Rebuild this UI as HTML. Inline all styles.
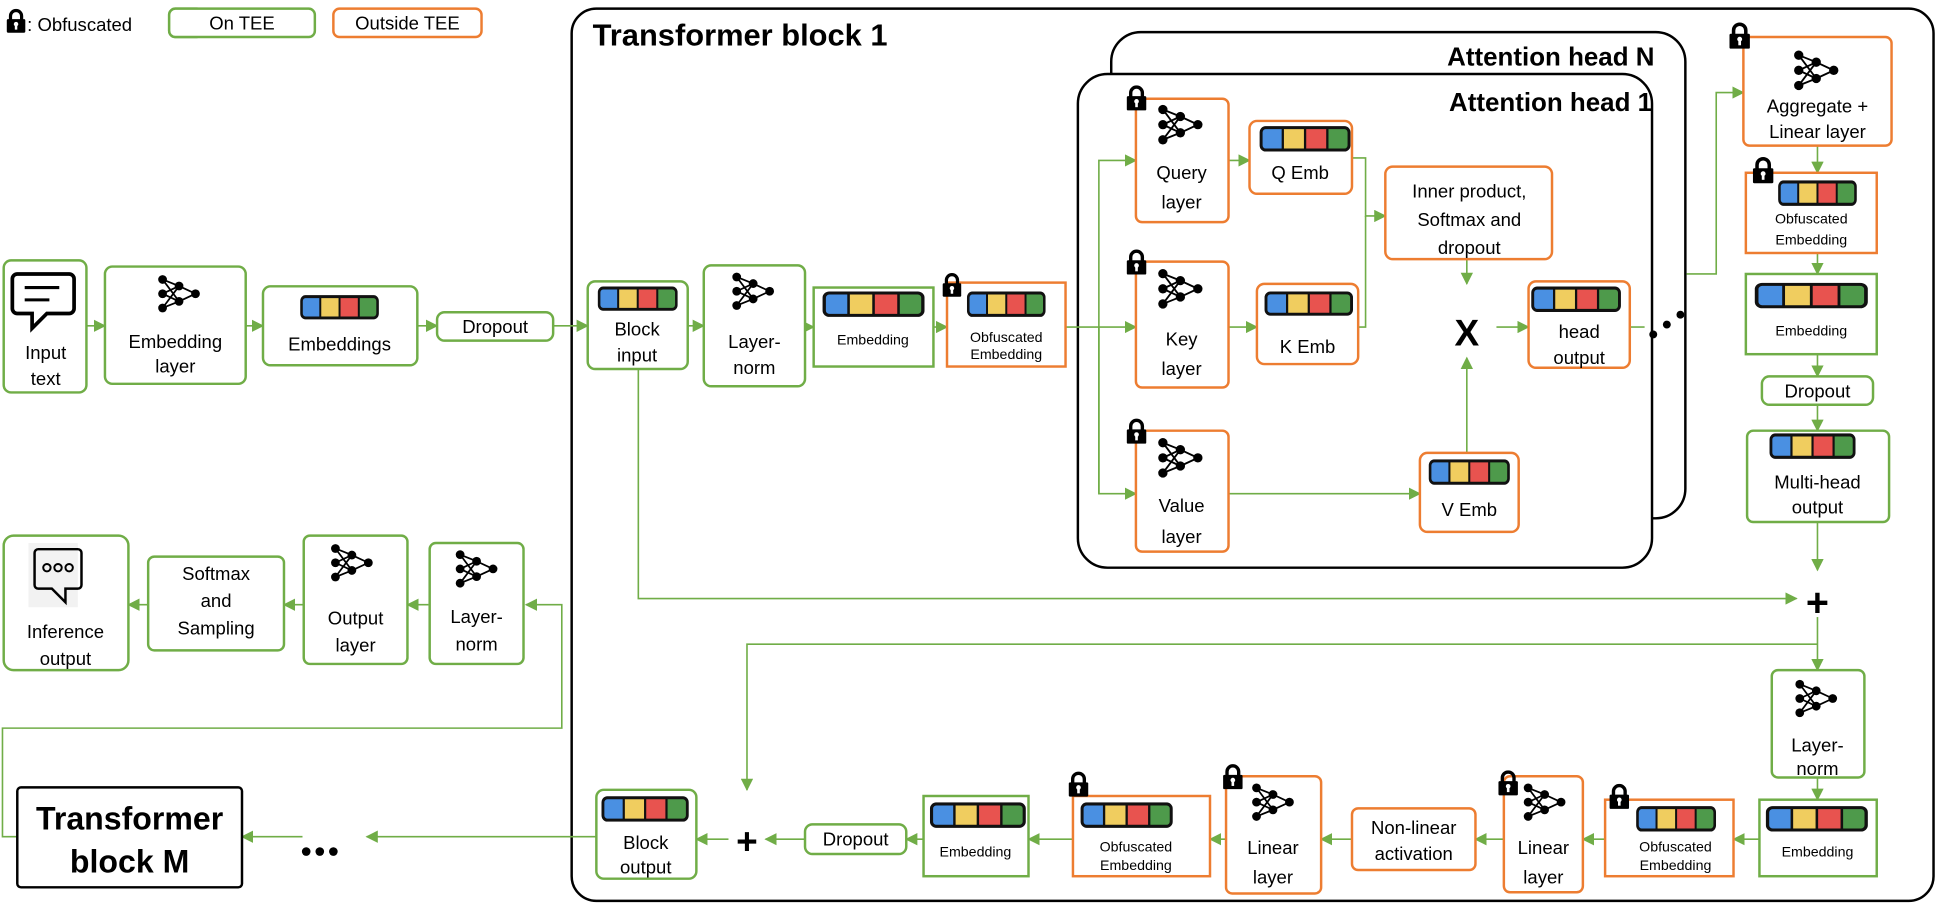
<!DOCTYPE html>
<html><head><meta charset="utf-8"><style>
html,body{margin:0;padding:0;background:#fff;}
svg{display:block;}
text{font-family:"Liberation Sans",sans-serif;fill:#000;}
.g{fill:#fff;stroke:#70ad47;stroke-width:2;}
.o{fill:#fff;stroke:#ed7d31;stroke-width:2;}
.c{fill:none;stroke:#70ad47;stroke-width:1.3;}
.t{font-size:15px;text-anchor:middle;}
.s{font-size:11.5px;text-anchor:middle;}
</style></head><body>
<svg width="1936" height="912" viewBox="0 0 1568 739" preserveAspectRatio="none" xmlns="http://www.w3.org/2000/svg">
<defs>
<marker id="a" markerWidth="10" markerHeight="10" refX="9" refY="5" orient="auto" markerUnits="userSpaceOnUse"><path d="M0,0 L10,5 L0,10 z" fill="#70ad47"/></marker>
<symbol id="nn" viewBox="0 0 40 36"><g stroke="#000" stroke-width="1.6"><path d="M5,5 L20,11 M5,5 L20,25 M5,18 L20,11 M5,18 L20,25 M5,31 L20,11 M5,31 L20,25 M20,11 L35,18 M20,25 L35,18"/></g><g fill="#000"><circle cx="5" cy="5" r="4"/><circle cx="5" cy="18" r="4"/><circle cx="5" cy="31" r="4"/><circle cx="20" cy="11" r="4"/><circle cx="20" cy="25" r="4"/><circle cx="35" cy="18" r="4"/></g></symbol>
<symbol id="emb" viewBox="0 0 80 22" preserveAspectRatio="none"><rect x="1.5" y="1.5" width="19" height="19" rx="3" fill="#4a90e2"/><rect x="20.5" y="1.5" width="19.5" height="19" fill="#f0cd5f"/><rect x="40" y="1.5" width="19.5" height="19" fill="#e8534f"/><rect x="59.5" y="1.5" width="19" height="19" rx="3" fill="#4e9a4b"/><g stroke="#111" stroke-width="2"><line x1="20.5" y1="1.5" x2="20.5" y2="20.5"/><line x1="40" y1="1.5" x2="40" y2="20.5"/><line x1="59.5" y1="1.5" x2="59.5" y2="20.5"/></g><rect x="1.5" y="1.5" width="77" height="19" rx="4" fill="none" stroke="#111" stroke-width="2.6"/></symbol>
<symbol id="lk" viewBox="0 0 16 20"><path d="M3.5,9 V6 A4.5,4.5 0 0 1 12.5,6 V9" fill="none" stroke="#000" stroke-width="2.6"/><rect x="0.5" y="8.5" width="15" height="11" rx="1" fill="#000"/><rect x="7" y="12" width="2" height="5" fill="#fff"/><circle cx="8" cy="12.5" r="1.8" fill="#fff"/></symbol>
</defs>

<!-- legend -->
<use href="#lk" x="5" y="7" width="16" height="20"/>
<text x="22" y="25" style="font-size:15px">: Obfuscated</text>
<rect class="g" x="168" y="8" width="150" height="29" rx="6"/>
<text class="t" x="243" y="29" style="font-size:16px">On TEE</text>
<rect class="o" x="334" y="8" width="150" height="29" rx="6" />
<g>
<rect class="g" x="137" y="7" width="118" height="23" rx="5"/>
<text class="t" x="196" y="24">On TEE</text>
<rect class="o" x="270" y="7" width="120" height="23" rx="5"/>
<text class="t" x="330" y="24">Outside TEE</text>
</g>
<rect x="160" y="5" width="330" height="35" fill="#fff"/>
<rect class="g" x="137" y="7" width="118" height="23" rx="5"/>
<text class="t" x="196" y="24">On TEE</text>
<rect class="o" x="270" y="7" width="120" height="23" rx="5"/>
<text class="t" x="330" y="24">Outside TEE</text>

<!-- big box -->
<rect x="463" y="7" width="1103" height="723" rx="20" fill="#fff" stroke="#000" stroke-width="2"/>
<text x="480" y="37" style="font-size:25px;font-weight:bold">Transformer block 1</text>
<rect x="900" y="26" width="465" height="394" rx="24" fill="#fff" stroke="#000" stroke-width="2"/>
<text x="1340" y="53" style="font-size:21px;font-weight:bold;text-anchor:end">Attention head N</text>
<rect x="873" y="60" width="465" height="400" rx="24" fill="#fff" stroke="#000" stroke-width="2"/>
<text x="1338" y="90" style="font-size:21px;font-weight:bold;text-anchor:end">Attention head 1</text>

<!-- connectors -->
<g class="c">
<line x1="70" y1="264" x2="85" y2="264" marker-end="url(#a)"/>
<line x1="199" y1="264" x2="213" y2="264" marker-end="url(#a)"/>
<line x1="338" y1="264" x2="354" y2="264" marker-end="url(#a)"/>
<line x1="448" y1="264" x2="476" y2="264" marker-end="url(#a)"/>
<line x1="557" y1="264" x2="570" y2="264" marker-end="url(#a)"/>
<line x1="652" y1="265" x2="659" y2="265" marker-end="url(#a)"/>
<line x1="756" y1="265" x2="767" y2="265" marker-end="url(#a)"/>
<path d="M863,265 H920" marker-end="url(#a)"/>
<path d="M890,400 V130 H920" marker-end="url(#a)"/>
<path d="M890,265 V400 H920" marker-end="url(#a)"/>
<line x1="995" y1="130" x2="1012" y2="130" marker-end="url(#a)"/>
<line x1="995" y1="265" x2="1018" y2="265" marker-end="url(#a)"/>
<path d="M1095,128 H1106 V175 H1122" marker-end="url(#a)"/>
<path d="M1100,265 H1106 V175"/>
<line x1="1188" y1="210" x2="1188" y2="230" marker-end="url(#a)"/>
<line x1="995" y1="400" x2="1150" y2="400" marker-end="url(#a)"/>
<line x1="1188" y1="367" x2="1188" y2="290" marker-end="url(#a)"/>
<line x1="1212" y1="265" x2="1238" y2="265" marker-end="url(#a)"/>
<line x1="1320" y1="265" x2="1332" y2="265"/>
<path d="M1366,222 H1390 V75 H1412" marker-end="url(#a)"/>
<line x1="1472" y1="118" x2="1472" y2="140" marker-end="url(#a)"/>
<line x1="1472" y1="205" x2="1472" y2="222" marker-end="url(#a)"/>
<line x1="1472" y1="287" x2="1472" y2="305" marker-end="url(#a)"/>
<line x1="1472" y1="328" x2="1472" y2="349" marker-end="url(#a)"/>
<line x1="1472" y1="423" x2="1472" y2="462" marker-end="url(#a)"/>
<path d="M517,299 V485 H1455" marker-end="url(#a)"/>
<line x1="1472" y1="500" x2="1472" y2="543" marker-end="url(#a)"/>
<path d="M1472,522 H605 V640" marker-end="url(#a)"/>
<line x1="1472" y1="630" x2="1472" y2="648" marker-end="url(#a)"/>
<line x1="1425" y1="680" x2="1404" y2="680" marker-end="url(#a)"/>
<line x1="1300" y1="680" x2="1282" y2="680" marker-end="url(#a)"/>
<line x1="1218" y1="680" x2="1195" y2="680" marker-end="url(#a)"/>
<line x1="1095" y1="680" x2="1070" y2="680" marker-end="url(#a)"/>
<line x1="993" y1="680" x2="980" y2="680" marker-end="url(#a)"/>
<line x1="869" y1="680" x2="833" y2="680" marker-end="url(#a)"/>
<line x1="748" y1="680" x2="734" y2="680" marker-end="url(#a)"/>
<line x1="652" y1="680" x2="620" y2="680" marker-end="url(#a)"/>
<line x1="590" y1="680" x2="564" y2="680" marker-end="url(#a)"/>
<line x1="483" y1="678" x2="297" y2="678" marker-end="url(#a)"/>
<line x1="245" y1="678" x2="196" y2="678" marker-end="url(#a)"/>
<path d="M14,678 H2 V590 H455 V490 H426" marker-end="url(#a)"/>
<line x1="347" y1="490" x2="330" y2="490" marker-end="url(#a)"/>
<line x1="246" y1="490" x2="230" y2="490" marker-end="url(#a)"/>
<line x1="120" y1="490" x2="104" y2="490" marker-end="url(#a)"/>
</g>
<g fill="#000"><circle cx="1339" cy="271" r="3.2"/><circle cx="1350" cy="263" r="3.2"/><circle cx="1361" cy="255" r="3.2"/></g>

<!-- left row -->
<rect class="g" x="3" y="211" width="67" height="107" rx="6"/>
<path d="M14,222 h42 a4,4 0 0 1 4,4 v24 a4,4 0 0 1 -4,4 h-18 l-12,12 v-12 h-12 a4,4 0 0 1 -4,-4 v-24 a4,4 0 0 1 4,-4z" fill="none" stroke="#000" stroke-width="3"/>
<line x1="20" y1="233" x2="48" y2="233" stroke="#000" stroke-width="2.5"/><line x1="20" y1="243" x2="40" y2="243" stroke="#000" stroke-width="2.5"/>
<text class="t" x="37" y="291">Input</text><text class="t" x="37" y="312">text</text>
<rect class="g" x="85" y="216" width="114" height="95" rx="6"/>
<use href="#nn" x="127" y="222" width="36" height="32"/>
<text class="t" x="142" y="282">Embedding</text><text class="t" x="142" y="302">layer</text>
<rect class="g" x="213" y="232" width="125" height="64" rx="6"/>
<use href="#emb" x="243" y="239" width="64" height="20"/>
<text class="t" x="275" y="284">Embeddings</text>
<rect class="g" x="354" y="253" width="94" height="23" rx="6"/>
<text class="t" x="401" y="270">Dropout</text>
<rect class="g" x="476" y="228" width="81" height="71" rx="6"/>
<use href="#emb" x="484" y="232" width="65" height="20"/>
<text class="t" x="516" y="272">Block</text><text class="t" x="516" y="293">input</text>
<rect class="g" x="570" y="215" width="82" height="98" rx="6"/>
<use href="#nn" x="592" y="220" width="36" height="32"/>
<text class="t" x="611" y="282">Layer-</text><text class="t" x="611" y="303">norm</text>
<rect class="g" x="659" y="233" width="97" height="64"/>
<use href="#emb" x="666" y="236" width="83" height="21"/>
<text class="s" x="707" y="279">Embedding</text>
<rect class="o" x="767" y="229" width="96" height="68"/>
<use href="#emb" x="783" y="236" width="64" height="21"/>
<use href="#lk" x="763" y="221" width="16" height="20"/>
<text class="s" x="815" y="277">Obfuscated</text><text class="s" x="815" y="291">Embedding</text>

<!-- attention -->
<rect class="o" x="920" y="80" width="75" height="100" rx="5"/>
<use href="#lk" x="912" y="69" width="17" height="21"/>
<use href="#nn" x="937" y="84" width="38" height="34"/>
<text class="t" x="957" y="145">Query</text><text class="t" x="957" y="169">layer</text>
<rect class="o" x="1012" y="98" width="83" height="59" rx="6"/>
<use href="#emb" x="1020" y="102" width="74" height="21"/>
<text class="t" x="1053" y="145">Q Emb</text>
<rect class="o" x="920" y="212" width="75" height="102" rx="5"/>
<use href="#lk" x="912" y="202" width="17" height="21"/>
<use href="#nn" x="937" y="217" width="38" height="34"/>
<text class="t" x="957" y="280">Key</text><text class="t" x="957" y="304">layer</text>
<rect class="o" x="1018" y="230" width="82" height="65" rx="6"/>
<use href="#emb" x="1024" y="236" width="72" height="20"/>
<text class="t" x="1059" y="286">K Emb</text>
<rect class="o" x="920" y="349" width="75" height="98" rx="5"/>
<use href="#lk" x="912" y="339" width="17" height="21"/>
<use href="#nn" x="937" y="354" width="38" height="34"/>
<text class="t" x="957" y="415">Value</text><text class="t" x="957" y="440">layer</text>
<rect class="o" x="1150" y="367" width="80" height="64" rx="6"/>
<use href="#emb" x="1157" y="372" width="66" height="21"/>
<text class="t" x="1190" y="418">V Emb</text>
<rect class="o" x="1122" y="135" width="135" height="75" rx="6"/>
<text class="t" x="1190" y="160">Inner product,</text><text class="t" x="1190" y="183">Softmax and</text><text class="t" x="1190" y="206">dropout</text>
<text x="1188" y="280" style="font-size:30px;font-weight:bold;text-anchor:middle">X</text>
<rect class="o" x="1238" y="228" width="82" height="70" rx="6"/>
<use href="#emb" x="1240" y="232" width="73" height="21"/>
<text class="t" x="1279" y="274">head</text><text class="t" x="1279" y="295">output</text>

<!-- right column -->
<rect class="o" x="1412" y="30" width="120" height="88" rx="5"/>
<use href="#lk" x="1400" y="18" width="18" height="22"/>
<use href="#nn" x="1452" y="40" width="38" height="34"/>
<text class="t" x="1472" y="91">Aggregate +</text><text class="t" x="1472" y="112">Linear layer</text>
<rect class="o" x="1414" y="140" width="106" height="65"/>
<use href="#lk" x="1419" y="127" width="18" height="22"/>
<use href="#emb" x="1440" y="146" width="64" height="21"/>
<text class="s" x="1467" y="181">Obfuscated</text><text class="s" x="1467" y="198">Embedding</text>
<rect class="g" x="1414" y="222" width="106" height="65"/>
<use href="#emb" x="1421" y="229" width="92" height="21"/>
<text class="s" x="1467" y="272">Embedding</text>
<rect class="g" x="1427" y="305" width="90" height="23" rx="6"/>
<text class="t" x="1472" y="322">Dropout</text>
<rect class="g" x="1415" y="349" width="115" height="74" rx="5"/>
<use href="#emb" x="1433" y="351" width="70" height="21"/>
<text class="t" x="1472" y="396">Multi-head</text><text class="t" x="1472" y="416">output</text>
<text x="1472" y="499" style="font-size:32px;font-weight:bold;text-anchor:middle">+</text>
<rect class="g" x="1435" y="543" width="75" height="87" rx="5"/>
<use href="#nn" x="1453" y="550" width="36" height="32"/>
<text class="t" x="1472" y="609">Layer-</text><text class="t" x="1472" y="628">norm</text>
<rect class="g" x="1425" y="648" width="95" height="62"/>
<use href="#emb" x="1430" y="653" width="83" height="21"/>
<text class="s" x="1472" y="694">Embedding</text>
<rect class="o" x="1300" y="648" width="104" height="62"/>
<use href="#lk" x="1303" y="635" width="17" height="21"/>
<use href="#emb" x="1325" y="653" width="65" height="21"/>
<text class="s" x="1357" y="690">Obfuscated</text><text class="s" x="1357" y="705">Embedding</text>
<rect class="o" x="1218" y="629" width="64" height="94" rx="5"/>
<use href="#lk" x="1213" y="624" width="17" height="21"/>
<use href="#nn" x="1233" y="634" width="36" height="32"/>
<text class="t" x="1250" y="692">Linear</text><text class="t" x="1250" y="716">layer</text>
<rect class="o" x="1095" y="655" width="100" height="50" rx="5"/>
<text class="t" x="1145" y="676">Non-linear</text><text class="t" x="1145" y="697">activation</text>
<rect class="o" x="993" y="629" width="77" height="95" rx="5"/>
<use href="#lk" x="990" y="619" width="17" height="21"/>
<use href="#nn" x="1013" y="634" width="36" height="32"/>
<text class="t" x="1031" y="692">Linear</text><text class="t" x="1031" y="716">layer</text>
<rect class="o" x="869" y="645" width="111" height="65"/>
<use href="#lk" x="865" y="625" width="17" height="21"/>
<use href="#emb" x="875" y="650" width="75" height="21"/>
<text class="s" x="920" y="690">Obfuscated</text><text class="s" x="920" y="705">Embedding</text>
<rect class="g" x="748" y="645" width="85" height="65"/>
<use href="#emb" x="753" y="650" width="78" height="21"/>
<text class="s" x="790" y="694">Embedding</text>
<rect class="g" x="652" y="668" width="82" height="24" rx="6"/>
<text class="t" x="693" y="685">Dropout</text>
<text x="605" y="692" style="font-size:30px;font-weight:bold;text-anchor:middle">+</text>
<rect class="g" x="483" y="640" width="81" height="72" rx="6"/>
<use href="#emb" x="487" y="645" width="71" height="21"/>
<text class="t" x="523" y="688">Block</text><text class="t" x="523" y="708">output</text>
<g fill="#000"><circle cx="248" cy="690" r="3.5"/><circle cx="259" cy="690" r="3.5"/><circle cx="270" cy="690" r="3.5"/></g>
<rect x="14" y="638" width="182" height="81" rx="3" fill="#fff" stroke="#000" stroke-width="2"/>
<text x="105" y="672" style="font-size:26px;font-weight:bold;text-anchor:middle">Transformer</text>
<text x="105" y="707" style="font-size:26px;font-weight:bold;text-anchor:middle">block M</text>

<!-- output row -->
<rect class="g" x="3" y="434" width="101" height="109" rx="8"/>
<rect x="23" y="440" width="40" height="52" fill="#f2f2f2"/>
<path d="M31,445 h32 a3,3 0 0 1 3,3 v26 a3,3 0 0 1 -3,3 h-10 v11 l-11,-11 h-11 a3,3 0 0 1 -3,-3 v-26 a3,3 0 0 1 3,-3z" fill="none" stroke="#000" stroke-width="2"/>
<g fill="none" stroke="#000" stroke-width="1.6"><circle cx="38" cy="460" r="3"/><circle cx="47" cy="460" r="3"/><circle cx="56" cy="460" r="3"/></g>
<text class="t" x="53" y="517">Inference</text><text class="t" x="53" y="539">output</text>
<rect class="g" x="120" y="451" width="110" height="76" rx="5"/>
<text class="t" x="175" y="470">Softmax</text><text class="t" x="175" y="492">and</text><text class="t" x="175" y="514">Sampling</text>
<rect class="g" x="246" y="434" width="84" height="104" rx="5"/>
<use href="#nn" x="267" y="440" width="36" height="32"/>
<text class="t" x="288" y="506">Output</text><text class="t" x="288" y="528">layer</text>
<rect class="g" x="348" y="440" width="76" height="98" rx="5"/>
<use href="#nn" x="368" y="445" width="36" height="32"/>
<text class="t" x="386" y="505">Layer-</text><text class="t" x="386" y="527">norm</text>
</svg>
</body></html>
